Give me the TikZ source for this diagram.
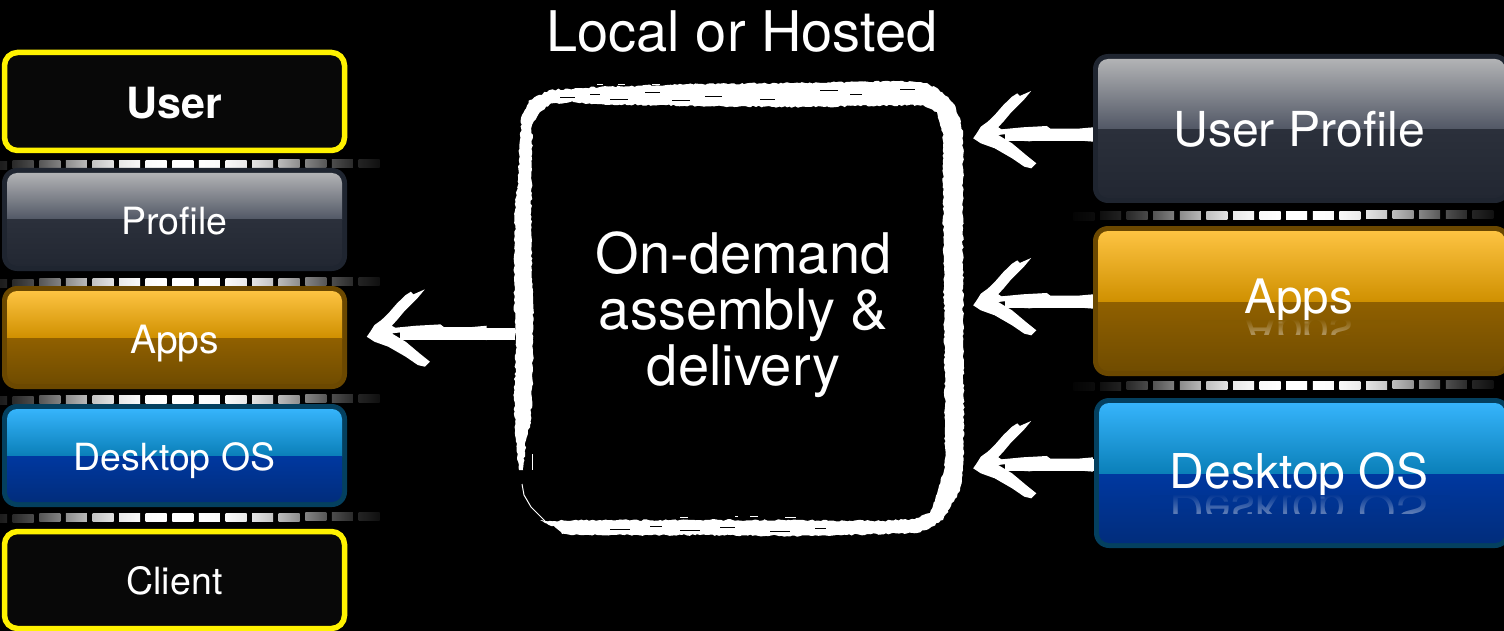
\documentclass[tikz,border=0pt]{standalone}
\usepackage{fontspec}
\setmainfont{TeX Gyre Heros}
\usetikzlibrary{decorations.pathmorphing,fadings}
\tikzset{
  lab/.style={text=white,inner sep=0pt,anchor=base,font=\fontsize{#1}{#1}\selectfont},
  shaft/.style={draw=white,line width=12pt},
  ybox/.style={draw=yellow,line width=5.5pt,fill=black!97!white,rounded corners=13pt,inner sep=0pt},
  glossbox/.style={rounded corners=15pt,inner sep=0pt},
  rough/.style={fill=white,even odd rule,decorate,decoration={random steps,segment length=2.6pt,amplitude=0.9pt}}
}
\definecolor{gb}{HTML}{1F2530}\definecolor{ga}{HTML}{B2B3B5}\definecolor{gc}{HTML}{505664}\definecolor{gd}{HTML}{2B303B}\definecolor{ge}{HTML}{222732}
\definecolor{ab}{HTML}{6B4800}\definecolor{aa}{HTML}{FDC342}\definecolor{ac}{HTML}{CF9000}\definecolor{ad}{HTML}{906000}\definecolor{ae}{HTML}{704C00}
\definecolor{db}{HTML}{04405F}\definecolor{da}{HTML}{36B4FB}\definecolor{dc}{HTML}{0A7FB8}\definecolor{dd}{HTML}{0038A0}\definecolor{de}{HTML}{012D7C}
% name x1 y1 x2 y2 ymid colourprefix
\newcommand\glossy[7]{%
  \pgfmathsetmacro\gcx{(#2+#4)/2}\pgfmathsetmacro\gcy{(#3+#5)/2}%
  \pgfmathsetmacro\gw{#4-#2}\pgfmathsetmacro\gh{#5-#3}%
  \node[glossbox,fill=#7b,minimum width=\gw pt,minimum height=\gh pt] (#1) at (\gcx,\gcy) {};
  \begin{scope}
    \clip[rounded corners=10pt] (#2+5,#3+5) rectangle (#4-5,#5-5);
    \shade[top color=#7a,bottom color=#7c] (#2,#3+5) rectangle (#4,#6);
    \shade[top color=#7d,bottom color=#7e] (#2,#6) rectangle (#4,#5-5);
  \end{scope}
}
% x0 y centre lastk
\newcommand\sepline[4]{%
  \foreach \k in {-1,...,#4}{%
    \pgfmathsetmacro\xa{#1+\k*26.6}\pgfmathsetmacro\xb{\xa+21}%
    \pgfmathsetmacro\pa{100*exp(-(abs(\xa-#3)/140)^3)}\pgfmathsetmacro\pb{100*exp(-(abs(\xb-#3)/140)^3)}%
    \pgfmathsetmacro\ya{#2-\k*0.1}%
    \shade[left color=white!\pa!black,right color=white!\pb!black] (\xa,\ya-4) rectangle (\xb,\ya+4);
  }%
}
\newcommand\sketchhead[2]{%
  \begin{scope}[shift={(#1,#2)},x=0.3472pt,y=-0.3333pt]
    \fill[white] (38,295) -- (48,280) -- (60,260) -- (80,245) -- (100,225) -- (125,195) -- (150,170) -- (165,160) -- (172,168) -- (205,153) -- (185,178) -- (145,220) -- (125,245) -- (110,262) -- (120,268) -- (180,262) -- (250,258) -- (260,266) -- (340,266) -- (383,262) -- (383,305) -- (300,298) -- (250,298) -- (200,304) -- (140,300) -- (135,282) -- (110,285) -- (150,310) -- (190,345) -- (220,370) -- (205,385) -- (185,380) -- (150,355) -- (100,325) -- (60,310) -- cycle;
  \end{scope}
}
\begin{document}
\begin{tikzpicture}[x=1pt,y=-1pt]
\pgfmathsetseed{7}
\useasboundingbox (0,0) rectangle (1504,631);
\fill[black] (0,0) rectangle (1504,631);
% dashed separators
\sepline{12.7}{165}{183}{13}
\sepline{12.7}{283}{183}{13}
\sepline{12.7}{400}{183}{13}
\sepline{12.7}{518}{183}{13}
\sepline{1100}{216}{1298}{14}
\sepline{1100}{386}{1298}{14}
% left stack
\node[ybox,minimum width=340pt,minimum height=98pt] (user) at (174.5,101.5) {};
\node[lab=43] (usert) at (174.5,119) {\bfseries User};
\glossy{profile}{2}{168}{347}{271}{220}{g}
\node[lab=37.5] (profilet) at (174.5,234) {Profile};
\glossy{appsl}{2}{286}{347}{389}{338}{a}
\node[lab=39] (appslt) at (174.5,353) {Apps};
\glossy{osl}{2}{404}{347}{507}{456}{d}
\node[lab=37.4] (oslt) at (174.5,470) {Desktop OS};
\node[ybox,minimum width=340pt,minimum height=97pt] (client) at (174.5,580) {};
\node[lab=37.5] (clientt) at (174.5,594) {Client};
% right stack
\glossy{upr}{1093}{54}{1510}{203}{130}{g}
\node[lab=48.2] (uprt) at (1299,147) {User Profile};
\glossy{appsr}{1093}{226}{1510}{376}{302}{a}
\node[lab=47.5] (appsrt) at (1299,313) {Apps};
\glossy{osr}{1094}{398}{1510}{548}{474}{d}
\node[lab=48] (osrt) at (1299,488) {Desktop OS};
% reflections
\begin{scope}
  \clip (1200,320) rectangle (1400,334);
  \node[lab=47.5,opacity=.35,yscale=-1,transform shape] (appsrr) at (1299,317) {Apps};
  \fill[ad!67!ae,path fading=south] (1200,319) rectangle (1400,333);
\end{scope}
\begin{scope}
  \clip (1150,495) rectangle (1450,513);
  \node[lab=48,opacity=.35,yscale=-1,transform shape] (osrr) at (1299,494) {Desktop OS};
  \fill[dd!65!de,path fading=south] (1150,494) rectangle (1450,512);
\end{scope}
% centre
\node[lab=56] (title) at (742,52) {Local or Hosted};
\node[inner sep=0pt,minimum width=448pt,minimum height=454pt] (asm) at (739,309) {};
\node[lab=56] (l1) at (743.5,273) {On-demand};
\node[lab=56] (l2) at (743.5,329) {assembly \&};
\node[lab=56] (l3) at (743.5,385) {delivery};
% hand drawn frame
\path[rough]
  (519,470) -- (516,440) -- (514,400) -- (516,350) -- (514,300) -- (515,210) -- (518,180) -- (520,140) -- (522,115) -- (530,100) -- (550,90) -- (600,87) -- (700,84) -- (800,83) -- (900,81) -- (927,83) -- (942,92) -- (953,103) -- (960,118) -- (963,133) -- (963,200) -- (963,300) -- (964,420) -- (963,470) -- (960,490) -- (950,508) -- (943,520) -- (930,528) -- (917,533) -- (800,536) -- (700,535) -- (600,535) -- (562,534) -- (556,528) -- (540,520) -- (545,521)
  -- (600,520) -- (700,520) -- (800,520) -- (880,521) -- (915,519) -- (930,513) -- (938,490) -- (945,467) -- (945,420) -- (944,300) -- (943,200) -- (943,133) -- (937,112) -- (923,105) -- (800,107) -- (700,106) -- (600,104) -- (570,102) -- (550,104) -- (540,112) -- (532,125) -- (532,170) -- (531,230) -- (533,300) -- (533,350) -- (532,400) -- (530,425) -- (526,440) -- (523,470) -- cycle;
\draw[white,line width=1pt] (522,484) -- (524,495) -- (531,507) -- (545,521);
\draw[white,line width=1pt] (532,454) -- (532,470);
\foreach \xa/\ya/\xb in {560/97/575,590/94/600,610/99/628,645/92/660,672/100/690,705/96/722,760/99/775,820/90/838,850/94/862,900/89/915,610/529/630,650/526/662,680/530/700,720/527/735,770/531/790,815/528/826}{%
  \draw[black,line width=.7pt] (\xa,\ya) -- (\xb,\ya);}
\foreach \xa/\ya/\xb in {680/517/688,735/516/738,750/516/758,785/517/796,597/85/603,618/85/625,652/85/660}{%
  \draw[white,line width=1pt] (\xa,\ya) -- (\xb,\ya);}
% arrows
\coordinate (h1) at (1005,135);
\coordinate (h2) at (1005,302);
\coordinate (h3) at (1005,465);
\coordinate (h4) at (400,334);
\draw[shaft] (upr.west |- h1) -- (h1);
\draw[shaft] (appsr.west |- h2) -- (h2);
\draw[shaft] (osr.west |- h3) -- (h3);
\draw[shaft] (asm.west |- h4) -- (h4);
\sketchhead{960}{40}
\sketchhead{960}{207}
\sketchhead{960}{370}
\sketchhead{353.6}{238.4}
\end{tikzpicture}
\end{document}
